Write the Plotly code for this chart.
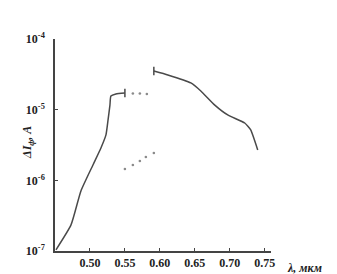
import plotly.graph_objects as go

# Data
left_x = [0.4514, 0.4729, 0.4871, 0.5043, 0.5157, 0.5229, 0.5257, 0.5286, 0.5300, 0.5371, 0.5500]
left_y = [1.04e-7, 2.34e-7, 7.08e-7, 1.65e-6, 2.87e-6, 4.39e-6, 6.92e-6, 1.16e-5, 1.56e-5, 1.67e-5, 1.72e-5]

right_x = [0.5914, 0.6114, 0.6443, 0.6586, 0.6786, 0.6971, 0.7214, 0.7300, 0.7400]
right_y = [3.52e-5, 3.10e-5, 2.39e-5, 1.84e-5, 1.16e-5, 8.41e-6, 6.48e-6, 5.16e-6, 2.69e-6]

upper_dots_x = [0.5614, 0.5714, 0.5814]
upper_dots_y = [1.69e-5, 1.69e-5, 1.67e-5]

lower_dots_x = [0.5500, 0.5614, 0.5714, 0.5800, 0.5914]
lower_dots_y = [1.45e-6, 1.65e-6, 1.88e-6, 2.14e-6, 2.44e-6]

cap_x = [0.5500, 0.5914]
cap_y = [1.72e-5, 3.52e-5]

x_ticks = [0.50, 0.55, 0.60, 0.65, 0.70, 0.75]
x_tick_labels = ["0.50", "0.55", "0.60", "0.65", "0.70", "0.75"]
y_ticks = [1e-7, 1e-6, 1e-5, 1e-4]
y_tick_labels = ["10<sup>-7</sup>", "10<sup>-6</sup>", "10<sup>-5</sup>", "10<sup>-4</sup>"]

line_col = "#4a4a4a"
dot_col = "#8a8a8a"
font_fam = "Liberation Serif"

fig = go.Figure()
fig.add_trace(go.Scatter(x=left_x, y=left_y, mode="lines",
                         line=dict(color=line_col, width=1.5, shape="spline", smoothing=0.5)))
fig.add_trace(go.Scatter(x=right_x, y=right_y, mode="lines",
                         line=dict(color=line_col, width=1.5, shape="spline", smoothing=0.4)))
fig.add_trace(go.Scatter(x=upper_dots_x, y=upper_dots_y, mode="markers",
                         marker=dict(color=dot_col, size=2.6)))
fig.add_trace(go.Scatter(x=lower_dots_x, y=lower_dots_y, mode="markers",
                         marker=dict(color=dot_col, size=2.6)))
fig.add_trace(go.Scatter(x=cap_x, y=cap_y, mode="markers",
                         marker=dict(symbol="line-ns", size=6, color=line_col,
                                     line=dict(color=line_col, width=1.5))))

fig.update_layout(
    width=337, height=274,
    margin=dict(l=47, r=74, t=31, b=31),
    paper_bgcolor="white", plot_bgcolor="white",
    showlegend=False,
    font=dict(family=font_fam, color="#222", size=12),
)
fig.update_xaxes(range=[0.45, 0.759], tickvals=x_ticks,
                 ticktext=["<b>" + t + "</b>" for t in x_tick_labels],
                 showgrid=False, zeroline=False, showline=True, linecolor="#444", linewidth=1.5,
                 ticks="inside", ticklen=3, tickcolor="#444",
                 tickfont=dict(family=font_fam, size=12, color="#222"))
fig.update_yaxes(type="log", range=[-7, -4], tickvals=y_ticks,
                 ticktext=["<b>" + t + "</b>" for t in y_tick_labels],
                 showgrid=False, zeroline=False, showline=True, linecolor="#444", linewidth=1.5,
                 ticks="inside", ticklen=3, tickcolor="#444", ticklabelstandoff=6,
                 tickfont=dict(family=font_fam, size=12, color="#222"))

fig.add_annotation(text="<b><i>λ, мкм</i></b>", xref="paper", yref="paper",
                   x=1.065, y=-0.08, xanchor="left", yanchor="middle", showarrow=False,
                   font=dict(family=font_fam, size=12, color="#222"))
fig.add_annotation(text="<b><i>ΔI<sub>ф</sub>, A</i></b>", xref="paper", yref="paper",
                   x=-0.125, y=0.51, xanchor="center", yanchor="middle", showarrow=False,
                   textangle=-90, font=dict(family=font_fam, size=12, color="#222"))

fig.write_html("out.html")
